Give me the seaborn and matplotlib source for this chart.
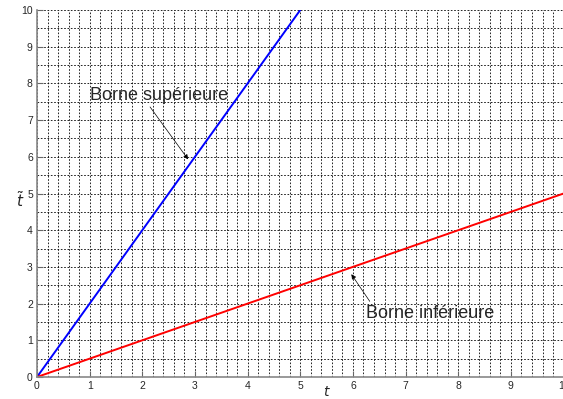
import matplotlib
matplotlib.use("Agg")
import matplotlib.pyplot as plt
import seaborn as sns
import numpy as np
from matplotlib.ticker import MultipleLocator

# Data
t_sup = [0, 5]
borne_sup = [0, 10]
t_inf = [0, 10]
borne_inf = [0, 5]
x_ticks = [0, 1, 2, 3, 4, 5, 6, 7, 8, 9, 10]
y_ticks = [0, 1, 2, 3, 4, 5, 6, 7, 8, 9, 10]

sns.set_style("white")
plt.rcParams['font.family'] = ['Liberation Sans', 'DejaVu Sans']

fig = plt.figure(figsize=(5.63, 3.99), dpi=100)
ax = fig.add_axes([37/563, 1 - 377/399, (563 - 37)/563 + 0.001, (377 - 10)/399])

sns.lineplot(x=t_sup, y=borne_sup, ax=ax, color="#0000ff", lw=1.4)
sns.lineplot(x=t_inf, y=borne_inf, ax=ax, color="#ff0000", lw=1.4)

ax.set_xlim(0, 10)
ax.set_ylim(0, 10)
ax.set_xticks(x_ticks)
ax.set_yticks(y_ticks)
ax.xaxis.set_minor_locator(MultipleLocator(0.2))
ax.yaxis.set_minor_locator(MultipleLocator(0.5))
ax.grid(True, which="major", color="black", linestyle=(0, (2, 2)), lw=0.6)
ax.grid(True, which="minor", color="black", linestyle=(0, (2, 2)), lw=0.6)
ax.tick_params(which="major", direction="in", length=4, width=0.8, color="#666666",
               labelsize=7.5, pad=3, bottom=True, left=True)
ax.tick_params(which="minor", length=0)

for s in ["top", "right"]:
    ax.spines[s].set_visible(False)
for s in ["left", "bottom"]:
    ax.spines[s].set_color("#888888")
    ax.spines[s].set_linewidth(1.2)

ax.set_xlabel("$t$", fontsize=10)
ax.xaxis.set_label_coords((327 - 37) / 526, -(392 - 377) / 367)
ax.xaxis.label.set_va("center")
ax.set_ylabel(r"$\tilde{t}$", fontsize=11, rotation=0)
ax.yaxis.set_label_coords(-(37 - 20) / 526, (377 - 200) / 367)
ax.yaxis.label.set_va("center")
ax.yaxis.label.set_ha("center")

ax.annotate("Borne supérieure", xy=(2.87, 5.93), xytext=(1.0, 7.68),
            fontsize=13, va="center", ha="left",
            arrowprops=dict(arrowstyle="-|>", color="black", lw=0.5,
                            mutation_scale=7, shrinkA=0, shrinkB=0,
                            relpos=(0.42, 0.0)))
ax.annotate("Borne inférieure", xy=(5.97, 2.8), xytext=(6.24, 1.74),
            fontsize=13, va="center", ha="left",
            arrowprops=dict(arrowstyle="-|>", color="black", lw=0.5,
                            mutation_scale=7, shrinkA=0, shrinkB=0,
                            relpos=(0.05, 1.0)))

fig.savefig("out.png", dpi=100)
